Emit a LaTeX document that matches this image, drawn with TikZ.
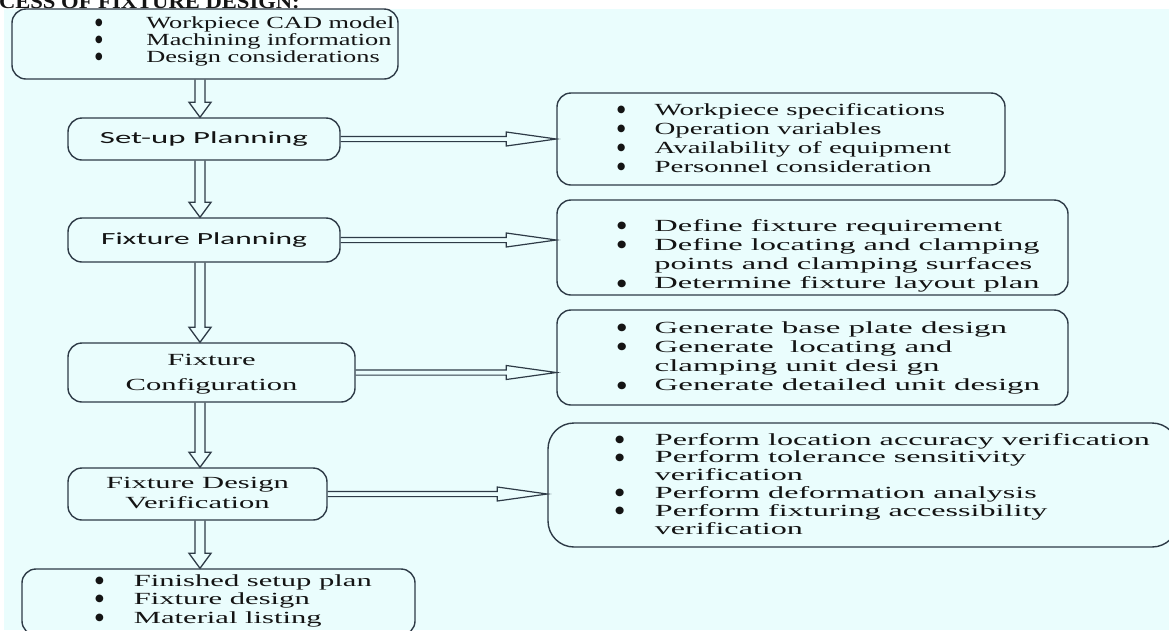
\documentclass[tikz,border=0pt]{standalone}
\usepackage{fontspec}
\setmainfont{Liberation Serif}
\newfontfamily\calib{Carlito}
\newfontfamily\dejavu{DejaVu Sans}
\usetikzlibrary{calc}
\pgfdeclarelayer{back}
\pgfsetlayers{back,main}
\definecolor{bgc}{HTML}{EAFDFD}
\definecolor{lnc}{HTML}{2E3B47}
\definecolor{txc}{HTML}{141414}
\newcommand{\xs}{1.8}
\newcommand{\bu}{\raisebox{2.6pt}{\scalebox{0.56}[1]{\dejavu\fontsize{10}{10}\selectfont ●}}}
\newcommand{\blist}[4]{\scalebox{#4}[1]{\fontsize{17}{#1}\selectfont\begin{tabular}[t]{@{}p{#2}@{}l@{}}#3\end{tabular}}}
\newcommand{\ctext}[4]{\scalebox{#4}[1]{#1\fontsize{17}{#2}\selectfont\begin{tabular}{@{}c@{}}#3\end{tabular}}}
\begin{document}
\begin{tikzpicture}[x=1pt,y=-1pt,
  box/.style={draw=lnc, line width=1.4pt, rounded corners=14pt, inner sep=0pt},
  txt/.style={text=txc, inner sep=0pt},
  vblock/.style={draw=lnc, line width=1.3pt, fill=bgc, line join=miter,
    to path={let \p1=(\tikztostart), \p2=(\tikztotarget) in
      (\x1-5pt,\y1) -- (\x1-5pt,\y2+15pt) -- (\x1-11pt,\y2+15pt) -- (\x1,\y2)
      -- (\x1+11pt,\y2+15pt) -- (\x1+5pt,\y2+15pt) -- (\x1+5pt,\y1)}},
  hblock/.style={draw=lnc, line width=1.2pt, fill=bgc, line join=miter,
    to path={let \p1=(\tikztostart), \p2=(\tikztotarget) in
      (\x1,\y1+2.6pt) -- (\x2-50pt,\y1+2.6pt) -- (\x2-50pt,\y1+7pt) -- (\x2,\y1)
      -- (\x2-50pt,\y1-7pt) -- (\x2-50pt,\y1-2.6pt) -- (\x1,\y1-2.6pt)}}]
\useasboundingbox (0,0) rectangle (1169,630);
\clip (0,0) rectangle (1169,630);
\begin{pgfonlayer}{back}
\fill[white] (0,0) rectangle (1169,630);
\fill[bgc] (4,9) rectangle (1169,630);
\end{pgfonlayer}

% header (cut off at top)
\node[txt, anchor=base east, font=\bfseries\fontsize{20}{22}\selectfont] (hd) at (300,8) {\scalebox{1.13}[1]{CESS OF FIXTURE DESIGN:}};

% boxes
\node[box, minimum width=386pt, minimum height=70pt] (A) at (205,44) {};
\node[box, minimum width=272pt, minimum height=42pt] (B) at (204,139) {};
\node[box, minimum width=272pt, minimum height=44pt] (C) at (204,240) {};
\node[box, minimum width=287pt, minimum height=59pt] (D) at (211.5,372.5) {};
\node[box, minimum width=259pt, minimum height=52pt] (E) at (197.5,494) {};
\node[box, minimum width=393pt, minimum height=66pt] (F) at (218.5,602) {};
\node[box, minimum width=448pt, minimum height=92pt] (R1) at (781,139) {};
\node[box, minimum width=511pt, minimum height=95pt] (R2) at (812.5,247.5) {};
\node[box, minimum width=511pt, minimum height=95pt] (R3) at (812.5,357.5) {};
\node[box, rounded corners=26pt, minimum width=630pt, minimum height=124pt] (R4) at (863,485) {};
\coordinate (col) at (200,0);

% texts
\node[txt, anchor=base west] (tA) at (95,28) {\blist{17pt}{33pt}{\bu & Workpiece CAD model\\ \bu & Machining information\\ \bu & Design considerations}{1.55}};
\node[txt] (tB) at (B.center) {\ctext{\calib}{20pt}{Set-up Planning}{1.93}};
\node[txt] (tC) at (C.center) {\ctext{\calib}{20pt}{Fixture Planning}{1.85}};
\node[txt] (tD) at (D.center) {\ctext{}{25pt}{Fixture\\ Configuration}{\xs}};
\node[txt] (tE) at (E.center) {\ctext{}{20pt}{Fixture Design\\ Verification}{\xs}};
\node[txt, anchor=base west] (tR1) at (617,115) {\blist{19pt}{22pt}{\bu & Workpiece specifications\\ \bu & Operation variables\\ \bu & Availability of equipment\\ \bu & Personnel consideration}{1.7}};
\node[txt, anchor=base west] (tR2) at (617,231) {\blist{19.3pt}{19.5pt}{\bu & Define fixture requirement\\ \bu & Define locating and clamping\\ & points and clamping surfaces\\ \bu & Determine fixture layout plan}{1.91}};
\node[txt, anchor=base west] (tR3) at (617,333) {\blist{19.3pt}{19.3pt}{\bu & Generate base plate design\\ \bu & Generate\ \ locating and\\ & clamping unit desi gn\\ \bu & Generate detailed unit design}{1.94}};
\node[txt, anchor=base west] (tR4) at (615,445) {\blist{17.8pt}{21pt}{\bu & Perform location accuracy verification\\ \bu & Perform tolerance sensitivity\\ & verification\\ \bu & Perform deformation analysis\\ \bu & Perform fixturing accessibility\\ & verification}{1.89}};
\node[txt, anchor=base west] (tF) at (95,586) {\blist{18.5pt}{21.5pt}{\bu & Finished setup plan\\ \bu & Fixture design\\ \bu & Material listing}{\xs}};

% connectors
\begin{pgfonlayer}{back}
\draw[vblock] (A.south -| col) to (B.north -| col);
\draw[vblock] (B.south -| col) to (C.north -| col);
\draw[vblock] (C.south -| col) to (D.north -| col);
\draw[vblock] (D.south -| col) to (E.north -| col);
\draw[vblock] (E.south -| col) to (F.north -| col);
\draw[hblock] (B.east) to (R1.west);
\draw[hblock] (C.east) to (R2.west);
\draw[hblock] (D.east) to (R3.west);
\draw[hblock] (E.east) to (R4.west);
\end{pgfonlayer}
\end{tikzpicture}
\end{document}
